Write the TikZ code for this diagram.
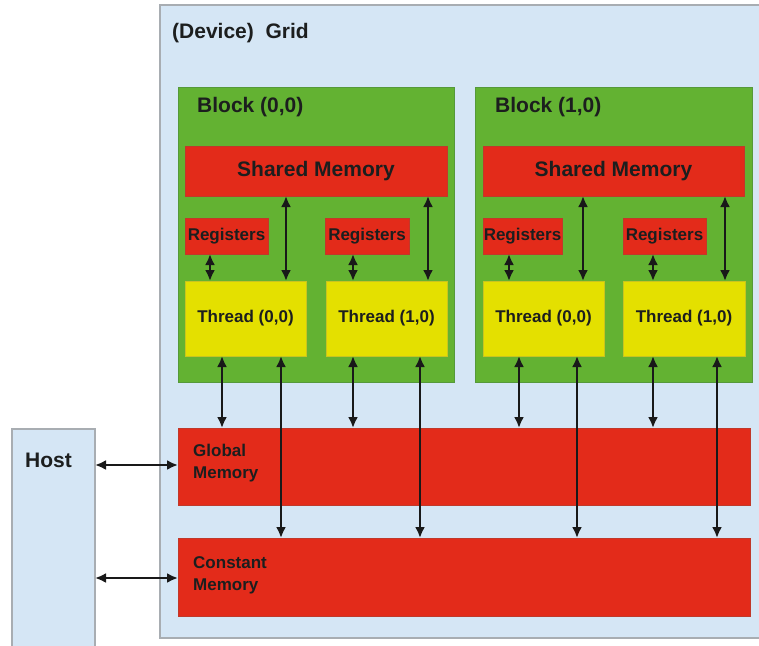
\documentclass[tikz,border=0pt]{standalone}
\usepackage{fontspec}
\setmainfont{Liberation Sans}
\usetikzlibrary{arrows.meta}
\definecolor{gridblue}{HTML}{D5E6F5}
\definecolor{gridline}{HTML}{A8ADB2}
\definecolor{blockgreen}{HTML}{63B232}
\definecolor{blockline}{HTML}{55993A}
\definecolor{memred}{HTML}{E32B1A}
\definecolor{memline}{HTML}{C0392A}
\definecolor{thryellow}{HTML}{E4E000}
\definecolor{thrline}{HTML}{C8C420}
\definecolor{ink}{HTML}{1C1E1E}
\tikzset{
  box/.style={inner sep=0pt, outer sep=0pt, line width=0.8pt},
  gridbox/.style={box, fill=gridblue, draw=gridline, line width=1.2pt},
  blockbox/.style={box, fill=blockgreen, draw=blockline},
  membox/.style={box, fill=memred, draw=memline, text=ink, font=\bfseries\fontsize{17}{20}\selectfont},
  thrbox/.style={box, fill=thryellow, draw=thrline, text=ink, font=\bfseries\fontsize{17}{20}\selectfont},
  bigtext/.style={inner sep=0pt, text=ink, font=\bfseries\fontsize{21}{24}\selectfont},
  smalltext/.style={inner sep=0pt, text=ink, align=left, font=\bfseries\fontsize{17}{22}\selectfont},
  dbl/.style={{Latex[length=11pt,width=10pt]}-{Latex[length=11pt,width=10pt]}, line width=2.6pt, draw=black!90},
}
\begin{document}
\begin{tikzpicture}[x=1pt,y=-1pt]
\useasboundingbox (0,0) rectangle (759,645);
\begin{scope}
\clip (0,0) rectangle (759,645);
% host and device grid
\node[gridbox, minimum width=83pt, minimum height=240pt, anchor=north west] (host) at (12,429) {};
\node[gridbox, minimum width=610pt, minimum height=633pt, anchor=north west] (grid) at (160,5) {};
\end{scope}
\node[bigtext, anchor=west] (hostlbl) at (25,460) {Host};
\node[bigtext, anchor=west] (gridlbl) at (172,33) {(Device)\ \ Grid};

% blocks
\node[blockbox, minimum width=276pt, minimum height=295pt, anchor=north west] (b0) at (178,87) {};
\node[blockbox, minimum width=277pt, minimum height=295pt, anchor=north west] (b1) at (475,87) {};
\node[bigtext, anchor=west] (b0lbl) at (197,107) {Block (0,0)};
\node[bigtext, anchor=west] (b1lbl) at (495,107) {Block (1,0)};

% shared memories
\node[membox, font=\bfseries\fontsize{21}{24}\selectfont, minimum width=262pt, minimum height=50pt, anchor=north west] (s0) at (185,146) {Shared Memory};
\node[membox, font=\bfseries\fontsize{21}{24}\selectfont, minimum width=261pt, minimum height=50pt, anchor=north west] (s1) at (483,146) {Shared Memory};

% registers
\node[membox, minimum width=83pt, minimum height=36pt, anchor=north west] (r00) at (185,218) {Registers};
\node[membox, minimum width=84pt, minimum height=36pt, anchor=north west] (r01) at (325,218) {Registers};
\node[membox, minimum width=79pt, minimum height=36pt, anchor=north west] (r10) at (483,218) {Registers};
\node[membox, minimum width=83pt, minimum height=36pt, anchor=north west] (r11) at (623,218) {Registers};

% threads
\node[thrbox, minimum width=121pt, minimum height=75pt, anchor=north west] (t00) at (185,281) {Thread (0,0)};
\node[thrbox, minimum width=121pt, minimum height=75pt, anchor=north west] (t01) at (326,281) {Thread (1,0)};
\node[thrbox, minimum width=121pt, minimum height=75pt, anchor=north west] (t10) at (483,281) {Thread (0,0)};
\node[thrbox, minimum width=122pt, minimum height=75pt, anchor=north west] (t11) at (623,281) {Thread (1,0)};

% global and constant memory
\node[membox, minimum width=572pt, minimum height=77pt, anchor=north west] (glob) at (178,428) {};
\node[membox, minimum width=572pt, minimum height=78pt, anchor=north west] (const) at (178,538) {};
\node[smalltext, anchor=north west] (globlbl) at (193,444) {Global\\Memory};
\node[smalltext, anchor=north west] (constlbl) at (193,556) {Constant\\Memory};

% registers <-> threads
\draw[dbl] ([xshift=25pt]r00.south west) -- ([xshift=25pt]r00.south west |- t00.north);
\draw[dbl] ([xshift=28pt]r01.south west) -- ([xshift=28pt]r01.south west |- t01.north);
\draw[dbl] ([xshift=26pt]r10.south west) -- ([xshift=26pt]r10.south west |- t10.north);
\draw[dbl] ([xshift=30pt]r11.south west) -- ([xshift=30pt]r11.south west |- t11.north);

% shared memory <-> threads
\draw[dbl] ([xshift=-20pt]t00.north east |- s0.south) -- ([xshift=-20pt]t00.north east);
\draw[dbl] ([xshift=-19pt]t01.north east |- s0.south) -- ([xshift=-19pt]t01.north east);
\draw[dbl] ([xshift=-21pt]t10.north east |- s1.south) -- ([xshift=-21pt]t10.north east);
\draw[dbl] ([xshift=-20pt]t11.north east |- s1.south) -- ([xshift=-20pt]t11.north east);

% threads <-> global memory
\draw[dbl] ([xshift=37pt]t00.south west) -- ([xshift=37pt]t00.south west |- glob.north);
\draw[dbl] ([xshift=27pt]t01.south west) -- ([xshift=27pt]t01.south west |- glob.north);
\draw[dbl] ([xshift=36pt]t10.south west) -- ([xshift=36pt]t10.south west |- glob.north);
\draw[dbl] ([xshift=30pt]t11.south west) -- ([xshift=30pt]t11.south west |- glob.north);

% threads <-> constant memory
\draw[dbl] ([xshift=96pt]t00.south west) -- ([xshift=96pt]t00.south west |- const.north);
\draw[dbl] ([xshift=94pt]t01.south west) -- ([xshift=94pt]t01.south west |- const.north);
\draw[dbl] ([xshift=94pt]t10.south west) -- ([xshift=94pt]t10.south west |- const.north);
\draw[dbl] ([xshift=94pt]t11.south west) -- ([xshift=94pt]t11.south west |- const.north);

% host <-> device memories
\draw[dbl] (host.east |- 0,465) -- (glob.west |- 0,465);
\draw[dbl] (host.east |- 0,578) -- (const.west |- 0,578);
\end{tikzpicture}
\end{document}
